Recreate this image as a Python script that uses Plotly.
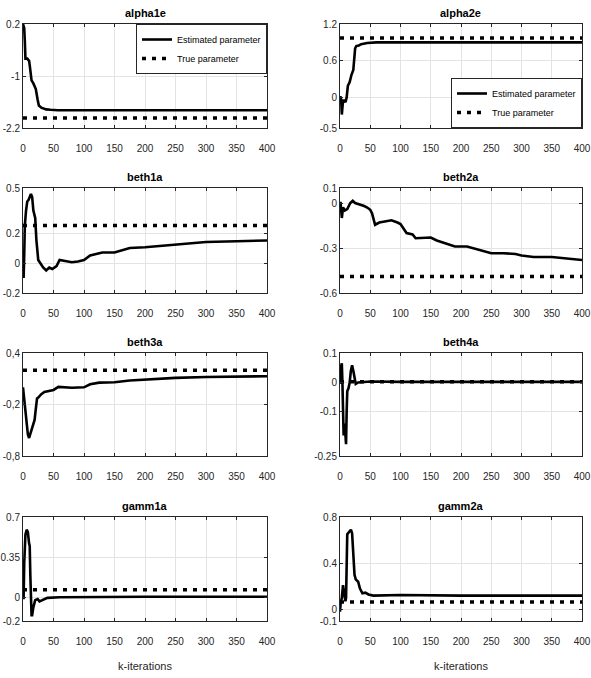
import plotly.graph_objects as go

# ---------------- data ----------------
titles = ["alpha1e", "alpha2e", "beth1a", "beth2a", "beth3a", "beth4a", "gamm1a", "gamm2a"]

alpha1e_k = [0, 1, 2, 3, 4, 7, 10, 11, 14, 17, 19, 21, 24, 26, 30, 38, 45, 57, 100, 200, 300, 400]
alpha1e_v = [0.2, 0.15, 0.1, -0.2, -0.6, -0.6, -0.65, -0.75, -1.1, -1.17, -1.25, -1.3, -1.55, -1.68, -1.73, -1.77, -1.78, -1.79, -1.79, -1.79, -1.79, -1.79]

alpha2e_k = [0, 1, 2, 3, 5, 7, 9, 11, 13, 16, 19, 22, 25, 27, 31, 35, 45, 60, 100, 200, 300, 400]
alpha2e_v = [0.0, 0.0, -0.05, -0.28, -0.05, -0.05, -0.08, 0.0, 0.19, 0.25, 0.37, 0.45, 0.8, 0.84, 0.85, 0.87, 0.89, 0.9, 0.9, 0.9, 0.9, 0.9]

beth1a_k = [0, 1, 2, 3, 5, 7, 9, 11, 13, 15, 17, 20, 22, 25, 28, 33, 38, 43, 48, 55, 60, 70, 80, 90, 100, 110, 120, 130, 150, 160, 175, 200, 225, 250, 300, 350, 400]
beth1a_v = [0.0, -0.1, 0.05, 0.25, 0.35, 0.41, 0.42, 0.44, 0.46, 0.44, 0.35, 0.3, 0.15, 0.02, 0.0, -0.03, -0.05, -0.03, -0.04, -0.02, 0.02, 0.01, 0.005, 0.01, 0.02, 0.05, 0.06, 0.07, 0.07, 0.08, 0.1, 0.105, 0.115, 0.125, 0.14, 0.145, 0.15]

beth2a_k = [0, 1, 3, 5, 8, 12, 17, 21, 25, 30, 35, 40, 45, 50, 53, 58, 65, 75, 85, 95, 100, 110, 120, 125, 150, 160, 170, 180, 190, 210, 220, 230, 250, 270, 290, 300, 320, 350, 370, 400]
beth2a_v = [0.0, 0.0, -0.1, -0.03, -0.05, -0.04, 0.0, 0.015, 0.0, -0.005, -0.015, -0.02, -0.03, -0.045, -0.07, -0.145, -0.13, -0.12, -0.115, -0.13, -0.14, -0.2, -0.21, -0.235, -0.23, -0.25, -0.265, -0.28, -0.29, -0.29, -0.3, -0.31, -0.335, -0.335, -0.34, -0.35, -0.36, -0.36, -0.37, -0.38]

beth3a_k = [0, 2, 5, 8, 10, 13, 16, 19, 21, 23, 25, 30, 35, 45, 50, 58, 70, 80, 100, 110, 125, 150, 175, 200, 225, 250, 300, 350, 400]
beth3a_v = [0.0, -0.15, -0.35, -0.55, -0.59, -0.52, -0.45, -0.38, -0.25, -0.13, -0.12, -0.08, -0.055, -0.04, -0.03, 0.005, 0.0, -0.005, 0.0, 0.035, 0.055, 0.06, 0.08, 0.09, 0.1, 0.11, 0.12, 0.125, 0.13]

beth4a_k = [0, 1, 2, 3, 4, 5, 6, 7, 8, 9, 10, 11, 12, 14, 16, 18, 20, 22, 24, 26, 30, 40, 50, 100, 200, 300, 400]
beth4a_v = [0.0, 0.0, 0.057, 0.065, 0.0, -0.1, -0.18, -0.15, -0.14, -0.18, -0.21, -0.1, -0.03, -0.02, 0.0, 0.04, 0.058, 0.04, 0.01, -0.005, 0.0, 0.002, 0.003, 0.002, 0.002, 0.002, 0.002]

gamm1a_k = [0, 1, 2, 3, 4, 6, 8, 10, 11, 12, 13, 14, 15, 17, 20, 24, 27, 32, 40, 60, 100, 200, 300, 400]
gamm1a_v = [0.0, 0.0, 0.3, 0.5, 0.55, 0.59, 0.57, 0.47, 0.45, 0.2, -0.05, -0.15, -0.15, -0.08, -0.02, -0.01, -0.03, -0.02, 0.0, 0.005, 0.008, 0.01, 0.01, 0.01]

gamm2a_k = [0, 1, 3, 4, 5, 7, 9, 10, 11, 12, 15, 18, 20, 22, 24, 26, 30, 33, 37, 42, 47, 55, 100, 200, 300, 400]
gamm2a_v = [-0.02, 0.05, 0.1, 0.2, 0.21, 0.13, 0.07, 0.1, 0.4, 0.65, 0.67, 0.69, 0.66, 0.5, 0.3, 0.26, 0.24, 0.18, 0.14, 0.145, 0.13, 0.12, 0.125, 0.12, 0.12, 0.12]

est_k = [alpha1e_k, alpha2e_k, beth1a_k, beth2a_k, beth3a_k, beth4a_k, gamm1a_k, gamm2a_k]
est_v = [alpha1e_v, alpha2e_v, beth1a_v, beth2a_v, beth3a_v, beth4a_v, gamm1a_v, gamm2a_v]

true_k = [0, 400]
true_values = [-1.97, 0.97, 0.25, -0.49, 0.2, 0.002, 0.07, 0.065]

y_ranges = [[-2.2, 0.2], [-0.5, 1.2], [-0.2, 0.5], [-0.6, 0.1], [-0.8, 0.4], [-0.25, 0.1], [-0.2, 0.7], [-0.1, 0.8]]
y_tickvals = [[-2.2, -1, 0.2], [-0.5, 0, 0.6, 1.2], [-0.2, 0, 0.2, 0.5], [-0.6, -0.3, 0, 0.1],
              [-0.8, -0.2, 0.4], [-0.25, -0.1, 0, 0.1], [-0.2, 0, 0.35, 0.7], [-0.1, 0, 0.4, 0.8]]
y_ticktext = [["-2.2", "-1", "0.2"], ["-0.5", "0", "0.6", "1.2"], ["-0.2", "0", "0.2", "0.5"], ["-0.6", "-0.3", "0", "0.1"],
              ["-0,8", "-0,2", "0,4"], ["-0.25", "-0.1", "0", "0.1"], ["-0.2", "0", "0.35", "0.7"], ["-0.1", "0", "0.4", "0.8"]]
x_tickvals = [0, 50, 100, 150, 200, 250, 300, 350, 400]
x_title = "k-iterations"
legend_names = ["Estimated parameter", "True parameter"]

# ---------------- layout ----------------
W, H = 591, 678
FONT = "Liberation Sans Narrow, Arial Narrow, Liberation Sans, Arial, sans-serif"
col_px = [(23, 267), (340, 582)]
row_px = [(24, 128), (188, 293), (353, 456), (517, 621)]

fig = go.Figure()
annotations = []
for i in range(8):
    r, c = divmod(i, 2)
    n = i + 1
    xa = "x" if n == 1 else f"x{n}"
    ya = "y" if n == 1 else f"y{n}"
    leg = "legend2" if i == 1 else "legend"
    showleg = i < 2
    fig.add_trace(go.Scatter(x=est_k[i], y=est_v[i], mode="lines", name=legend_names[0],
                             line=dict(color="black", width=2.6), xaxis=xa, yaxis=ya,
                             showlegend=showleg, legend=leg, hoverinfo="skip"))
    fig.add_trace(go.Scatter(x=true_k, y=[true_values[i]] * len(true_k), mode="lines", name=legend_names[1],
                             line=dict(color="black", width=3.5, dash="4px,6px"), xaxis=xa, yaxis=ya,
                             showlegend=showleg, legend=leg, hoverinfo="skip"))
    x0, x1 = col_px[c]
    y0, y1 = row_px[r]
    xdom = [x0 / W, x1 / W]
    ydom = [1 - y1 / H, 1 - y0 / H]
    axcommon = dict(showline=True, linecolor="#262626", linewidth=1, mirror="ticks", ticks="inside",
                    ticklen=3, tickcolor="#262626", showgrid=True, gridcolor="#e3e3e3", gridwidth=1,
                    zeroline=False, automargin=False, ticklabeloverflow="allow",
                    tickfont=dict(family=FONT, size=10, color="#262626"))
    xkey = "xaxis" if n == 1 else f"xaxis{n}"
    ykey = "yaxis" if n == 1 else f"yaxis{n}"
    xax = dict(axcommon, domain=xdom, range=[0, 400], tickvals=x_tickvals, anchor=ya,
               ticklabelstandoff=11)
    if r == 3:
        xax["title"] = dict(text=x_title, font=dict(family=FONT, size=11, color="#262626"), standoff=16)
    yax = dict(axcommon, domain=ydom, range=y_ranges[i], tickvals=y_tickvals[i], ticktext=y_ticktext[i],
               anchor=xa, ticklabelstandoff=0)
    fig.update_layout({xkey: xax, ykey: yax})
    annotations.append(dict(text=f"<b>{titles[i]}</b>", x=(xdom[0] + xdom[1]) / 2, y=ydom[1],
                            xref="paper", yref="paper", xanchor="center", yanchor="bottom",
                            yshift=3, showarrow=False, font=dict(family=FONT, size=11, color="black")))

legstyle = dict(bgcolor="white", bordercolor="#262626", borderwidth=1, itemwidth=30,
                font=dict(family=FONT, size=9, color="black"), tracegroupgap=0)
fig.update_layout(
    width=W, height=H, margin=dict(l=0, r=0, t=0, b=0),
    paper_bgcolor="white", plot_bgcolor="white",
    font=dict(family=FONT, color="black"),
    annotations=annotations,
    hovermode=False,
    legend=dict(legstyle, x=267 / W, y=1 - 24 / H, xanchor="right", yanchor="top"),
    legend2=dict(legstyle, x=582 / W, y=1 - 128 / H, xanchor="right", yanchor="bottom"),
)

fig.write_html("out.html", config={"displayModeBar": False, "staticPlot": True},
               post_script="document.body.style.margin='0px';document.body.style.overflow='hidden';")
